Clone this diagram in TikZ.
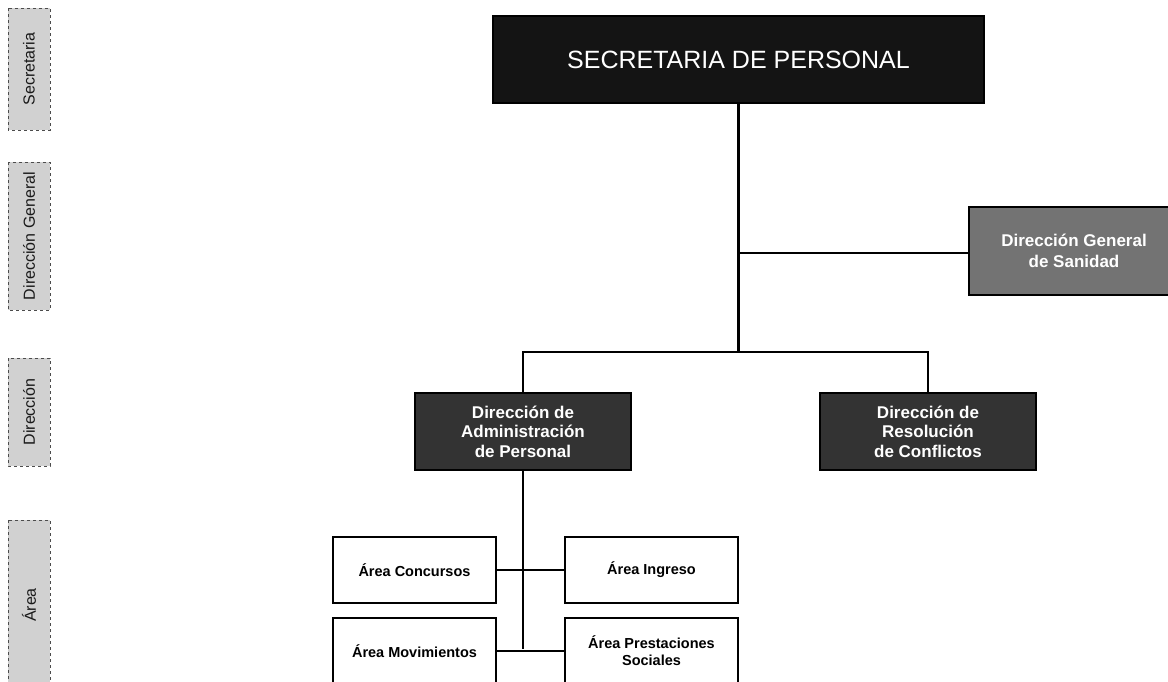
\documentclass[tikz,border=0pt]{standalone}
\usepackage{fontspec}
\setmainfont{Liberation Sans}
\begin{document}
\begin{tikzpicture}[x=1pt,y=-1pt,
  topbox/.style={draw=black,fill=black!92!white,text=white,minimum width=491pt,minimum height=87pt,font=\fontsize{25}{30}\selectfont,line width=1.5pt,inner sep=0pt},
  dirbox/.style={draw=black,fill=black!80!white,text=white,font=\fontsize{17}{19.5}\selectfont\bfseries,align=center,line width=1.5pt,inner sep=0pt},
  sanbox/.style={draw=black,fill=black!55!white,text=white,font=\fontsize{17}{21}\selectfont\bfseries,align=center,line width=1.5pt,inner sep=0pt},
  areabox/.style={draw=black,fill=white,font=\fontsize{14.5}{17}\selectfont\bfseries,align=center,line width=1.5pt,inner sep=0pt,minimum height=66pt},
  lvl/.style={draw=black!70,dashed,fill=black!18,text=black!90,font=\fontsize{16}{19}\selectfont,rotate=90,minimum height=42pt,inner sep=0pt},
  conn/.style={line width=2pt,black},
  connthick/.style={line width=2.6pt,black}]
\useasboundingbox (0,0) rectangle (1168,681);
\clip (0,0) rectangle (1168,681);
% level labels
\node[lvl,minimum width=122pt] (lsec) at (29,69) {Secretaria};
\node[lvl,minimum width=148pt] (ldg) at (29,236) {Dirección General};
\node[lvl,minimum width=108pt] (ldir) at (29,412) {Dirección};
\node[lvl,minimum width=170pt] (larea) at (29,605) {Área};
% boxes
\node[topbox] (top) at (738.5,59.5) {SECRETARIA DE PERSONAL};
\node[sanbox,minimum width=210pt,minimum height=88pt] (san) at (1074,251) {Dirección General\\de Sanidad};
\node[dirbox,minimum width=216pt,minimum height=77pt] (adm) at (523,431.5) {Dirección de\\Administración\\de Personal};
\node[dirbox,minimum width=216pt,minimum height=77pt] (res) at (928,431.5) {Dirección de\\Resolución\\de Conflictos};
\node[areabox,minimum width=163pt] (con) at (414.5,570) {Área Concursos};
\node[areabox,minimum width=173pt] (ing) at (651.5,570) {Área Ingreso};
\node[areabox,minimum width=163pt] (mov) at (414.5,651) {Área Movimientos};
\node[areabox,minimum width=173pt] (pre) at (651.5,651) {Área Prestaciones\\Sociales};
% connectors
\coordinate (j0) at (738.5,253);
\coordinate (j1) at (738.5,352);
\draw[connthick] (top.south) -- (j1);
\draw[conn] (j0) -- (j0 -| san.west);
\draw[conn] (adm.north) |- (j1) -| (res.north);
\coordinate (j2) at (523,649);
\draw[connthick] (adm.south) -- (j2);
\draw[conn] (con.east) -- (ing.west);
\draw[conn] (mov.east) -- (pre.west);
\end{tikzpicture}
\end{document}
